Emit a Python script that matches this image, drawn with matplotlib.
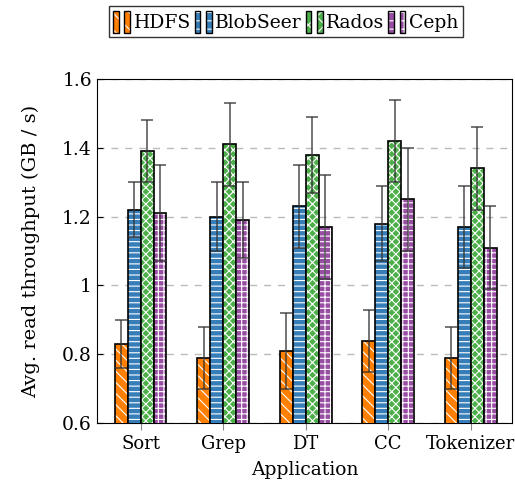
import numpy as np
import matplotlib
matplotlib.use("Agg")
import matplotlib.pyplot as plt
from matplotlib.patches import Rectangle
from matplotlib.legend_handler import HandlerTuple

plt.rcParams['font.family'] = ['DejaVu Serif']
plt.rcParams['hatch.linewidth'] = 0.8

apps = ["Sort", "Grep", "DT", "CC", "Tokenizer"]
systems = ["HDFS", "BlobSeer", "Rados", "Ceph"]

hdfs = [0.83, 0.79, 0.81, 0.84, 0.79]
hdfs_err = [0.07, 0.09, 0.11, 0.09, 0.09]
blobseer = [1.22, 1.20, 1.23, 1.18, 1.17]
blobseer_err = [0.08, 0.10, 0.12, 0.11, 0.12]
rados = [1.39, 1.41, 1.38, 1.42, 1.34]
rados_err = [0.09, 0.12, 0.11, 0.12, 0.12]
ceph = [1.21, 1.19, 1.17, 1.25, 1.11]
ceph_err = [0.14, 0.11, 0.15, 0.15, 0.12]

values = [hdfs, blobseer, rados, ceph]
errors = [hdfs_err, blobseer_err, rados_err, ceph_err]
colors = ["#ff7f00", "#377eb8", "#4daf4a", "#984ea3"]
hatches = ["\\\\\\", "---", "xxxx", "+++"]

fig = plt.figure(figsize=(5.15, 4.87), dpi=100)
ax = fig.add_axes([0.188, 0.131, 0.806, 0.707])

x = np.arange(len(apps))
w = 0.157
handles = []
for i in range(4):
    pos = x + (i - 1.5) * w
    bars = ax.bar(pos, values[i], w, bottom=0, color=colors[i], edgecolor="black",
                  linewidth=1.2, hatch=hatches[i], zorder=3)
    for b in bars:
        b._hatch_color = (1, 1, 1, 1)
    ax.errorbar(pos, values[i], yerr=errors[i], fmt="none", ecolor="#333333",
                elinewidth=1.2, capsize=4, capthick=1.2, alpha=0.8, zorder=4)
    pair = []
    for k in range(2):
        r = Rectangle((0, 0), 1, 1, facecolor=colors[i], edgecolor="black",
                      linewidth=1.0, hatch=hatches[i][:2])
        r._hatch_color = (1, 1, 1, 1)
        pair.append(r)
    handles.append(tuple(pair))

ax.set_ylim(0.6, 1.6)
ax.set_xlim(-0.53, 4.5)
ax.set_yticks([0.6, 0.8, 1.0, 1.2, 1.4, 1.6])
ax.set_yticklabels(["0.6", "0.8", "1", "1.2", "1.4", "1.6"])
ax.set_xticks(x)
ax.set_xticklabels(apps)
ax.yaxis.grid(True, linestyle=(0, (5, 5)), color="#bbbbbb", linewidth=1.0, zorder=0)
ax.tick_params(axis="y", direction="in", length=4, labelsize=13.5)
ax.tick_params(axis="x", direction="out", length=5, labelsize=13, color="#888888")
ax.set_xlabel("Application", fontsize=13.5, labelpad=6)
ax.set_ylabel("Avg. read throughput (GB / s)", fontsize=14, labelpad=16)

fig.legend(handles, systems, loc="upper center", bbox_to_anchor=(0.555, 0.995), ncol=4,
           handler_map={tuple: HandlerTuple(ndivide=None, pad=0.3)},
           handlelength=0.9, handleheight=1.4, handletextpad=0.2, columnspacing=0.2,
           fontsize=13.5, frameon=True, fancybox=False, edgecolor="black",
           borderpad=0.25, borderaxespad=0.2)

fig.savefig("out.png", dpi=100)
